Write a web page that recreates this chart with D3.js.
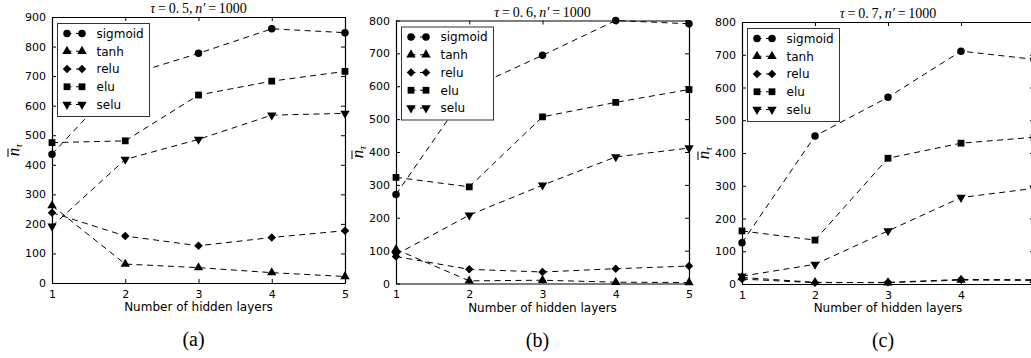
<!DOCTYPE html>
<html><head><meta charset="utf-8">
<script src="https://cdn.jsdelivr.net/npm/d3@7"></script>
<style>body{margin:0;background:#fff}svg{display:block}</style>
</head><body>
<svg id="c" width="1031" height="358"></svg>
<script>
const xCategories = [1, 2, 3, 4, 5];
const seriesNames = ["sigmoid", "tanh", "relu", "elu", "selu"];
const panelTaus = ["0.5", "0.6", "0.7"];
const panelLabels = ["(a)", "(b)", "(c)"];
const yTicksA = [0, 100, 200, 300, 400, 500, 600, 700, 800, 900];
const yTicksBC = [0, 100, 200, 300, 400, 500, 600, 700, 800];

const sigmoidA = [436, 700, 777, 860, 847];
const tanhA    = [262, 64, 52, 35, 22];
const reluA    = [238, 159, 126, 154, 177];
const eluA     = [475, 481, 636, 683, 716];
const seluA    = [192, 418, 486, 568, 574];

const sigmoidB = [271, 592, 694, 800, 790];
const tanhB    = [104, 8, 10, 4, 3];
const reluB    = [82, 43, 35, 45, 53];
const eluB     = [323, 294, 507, 551, 590];
const seluB    = [88, 208, 299, 385, 412];

const sigmoidC = [126, 452, 570, 711, 686];
const tanhC    = [20, 5, 4, 12, 11];
const reluC    = [15, 4, 5, 14, 13];
const eluC     = [162, 134, 384, 430, 448];
const seluC    = [24, 60, 162, 264, 292];

const panels = [
  {tau: panelTaus[0], label: panelLabels[0], yTicks: yTicksA, series: [sigmoidA, tanhA, reluA, eluA, seluA],
   box: {l: 52, r: 345, t: 17, b: 283}},
  {tau: panelTaus[1], label: panelLabels[1], yTicks: yTicksBC, series: [sigmoidB, tanhB, reluB, eluB, seluB],
   box: {l: 396, r: 689, t: 20.5, b: 283.5}},
  {tau: panelTaus[2], label: panelLabels[2], yTicks: yTicksBC, series: [sigmoidC, tanhC, reluC, eluC, seluC],
   box: {l: 742, r: 1034, t: 22, b: 284}}
];

const wideDiamond = {
  draw(ctx, size) {
    const r = Math.sqrt(size / 2);
    ctx.moveTo(0, -r); ctx.lineTo(r, 0); ctx.lineTo(0, r); ctx.lineTo(-r, 0); ctx.closePath();
  }
};
const symbols = [
  d3.symbol().type(d3.symbolCircle).size(44),
  d3.symbol().type(d3.symbolTriangle).size(38),
  d3.symbol().type(wideDiamond).size(36),
  d3.symbol().type(d3.symbolSquare).size(46),
  d3.symbol().type(d3.symbolTriangle).size(38)
];
const symRot = [0, 0, 0, 0, 180];

const svg = d3.select("#c");
const sans = "DejaVu Sans, sans-serif";
const serif = "Liberation Serif, DejaVu Serif, serif";

panels.forEach((p, pi) => {
  const B = p.box;
  const x = d3.scaleLinear().domain([xCategories[0], xCategories[xCategories.length - 1]]).range([B.l, B.r]);
  const y = d3.scaleLinear().domain([0, p.yTicks[p.yTicks.length - 1]]).range([B.b, B.t]);
  const g = svg.append("g");

  const tk = 4;
  const bottom = g.append("g").attr("transform", `translate(0,${B.b})`)
    .call(d3.axisBottom(x).tickValues(xCategories).tickFormat(d3.format("d")).tickSizeInner(-tk).tickSizeOuter(0).tickPadding(7));
  const top = g.append("g").attr("transform", `translate(0,${B.t})`)
    .call(d3.axisTop(x).tickValues(xCategories).tickFormat("").tickSizeInner(-tk).tickSizeOuter(0));
  const left = g.append("g").attr("transform", `translate(${B.l},0)`)
    .call(d3.axisLeft(y).tickValues(p.yTicks).tickFormat(d3.format("d")).tickSizeInner(-tk).tickSizeOuter(0).tickPadding(6));
  const right = g.append("g").attr("transform", `translate(${B.r},0)`)
    .call(d3.axisRight(y).tickValues(p.yTicks).tickFormat("").tickSizeInner(-tk).tickSizeOuter(0));
  [bottom, top, left, right].forEach(a => {
    a.select(".domain").attr("stroke", "#000").attr("stroke-width", 1.2);
    a.selectAll(".tick line").attr("stroke", "#000").attr("stroke-width", 1);
    a.selectAll("text").attr("font-family", sans).attr("font-size", 11).attr("fill", "#000");
  });

  const cid = "clip" + pi;
  g.append("clipPath").attr("id", cid).append("rect")
    .attr("x", B.l - 6).attr("y", B.t - 6).attr("width", B.r - B.l + 12).attr("height", B.b - B.t + 12);
  const data = g.append("g").attr("clip-path", `url(#${cid})`);

  const line = d3.line().x((d, i) => x(xCategories[i])).y(d => y(d));
  p.series.forEach((vals) => {
    data.append("path").datum(vals).attr("d", line)
      .attr("fill", "none").attr("stroke", "#000").attr("stroke-width", 1)
      .attr("stroke-dasharray", "6,4.5");
  });
  p.series.forEach((vals, si) => {
    data.selectAll(null).data(vals).enter().append("path")
      .attr("d", symbols[si])
      .attr("transform", (d, i) => `translate(${x(xCategories[i])},${y(d)}) rotate(${symRot[si]})`)
      .attr("fill", "#000");
  });

  // legend
  const lx = B.l + 5.5, ly = B.t + 6.5, lw = 92, lh = 93;
  const lg = g.append("g");
  lg.append("rect").attr("x", lx).attr("y", ly).attr("width", lw).attr("height", lh)
    .attr("fill", "#fff").attr("stroke", "#333").attr("stroke-width", 1);
  seriesNames.forEach((name, si) => {
    const ry = ly + 10 + si * 17.75;
    lg.append("line").attr("x1", lx + 7).attr("x2", lx + 27).attr("y1", ry).attr("y2", ry)
      .attr("stroke", "#000").attr("stroke-width", 1).attr("stroke-dasharray", "6,4.5").attr("stroke-dashoffset", -1);
    [lx + 9.5, lx + 24.5].forEach(mx => {
      lg.append("path").attr("d", symbols[si])
        .attr("transform", `translate(${mx},${ry}) rotate(${symRot[si]})`).attr("fill", "#000");
    });
    lg.append("text").attr("x", lx + 39).attr("y", ry + 4.3)
      .attr("font-family", sans).attr("font-size", 12).attr("fill", "#000").text(name);
  });

  // title
  const cx = (B.l + B.r) / 2;
  const t = g.append("text").attr("x", cx).attr("y", B.t - 4).attr("text-anchor", "middle")
    .attr("font-family", serif).attr("font-size", 14).attr("fill", "#000");
  t.append("tspan").attr("font-style", "italic").text("τ");
  t.append("tspan").text("\u2009=\u20090." + "\u2009" + p.tau.split(".")[1] + ",\u2009");
  t.append("tspan").attr("font-style", "italic").text("n′");
  t.append("tspan").text("\u2009=\u20091000");

  // x label
  g.append("text").attr("x", cx).attr("y", B.b + 28).attr("text-anchor", "middle")
    .attr("font-family", sans).attr("font-size", 12).attr("fill", "#000").text("Number of hidden layers");

  // y label (n with bar, subscript tau)
  const yg = g.append("g").attr("transform", `translate(${B.l - 33},${(B.t + B.b) / 2}) rotate(-90)`);
  const yl = yg.append("text").attr("text-anchor", "middle").attr("font-family", serif)
    .attr("font-size", 17).attr("fill", "#000");
  yl.append("tspan").attr("font-style", "italic").text("n");
  yl.append("tspan").attr("font-style", "italic").attr("font-size", 11).attr("dy", 3).text("τ");
  yg.append("line").attr("x1", -7).attr("x2", 1.5).attr("y1", -11).attr("y2", -11)
    .attr("stroke", "#000").attr("stroke-width", 1);

  // panel label
  g.append("text").attr("x", cx - 5).attr("y", B.b + 63).attr("text-anchor", "middle")
    .attr("font-family", serif).attr("font-size", 20).attr("fill", "#000").text(p.label);
});
</script>
</body></html>
